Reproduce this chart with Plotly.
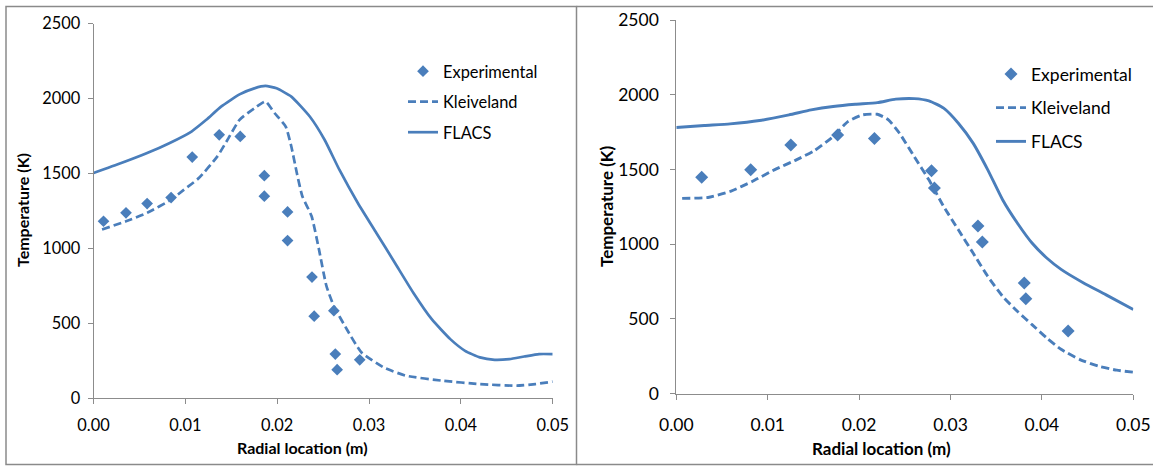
import plotly.graph_objects as go

# ---- Left panel data ----
left_exp_x = [0.00109, 0.00354, 0.00584, 0.00845, 0.01075, 0.01369, 0.01598, 0.0186, 0.0186,
              0.02113, 0.02113, 0.02379, 0.02403, 0.02617, 0.02633, 0.02653, 0.02899]
left_exp_y = [1180, 1236, 1298, 1338, 1608, 1757, 1746, 1484, 1347,
              1242, 1051, 807, 546, 583, 293, 189, 255]

left_klv_x = [0.00093, 0.00354, 0.00584, 0.00845, 0.00986, 0.01147, 0.01349, 0.0147, 0.0159,
              0.01751, 0.01872, 0.01973, 0.02093, 0.02154, 0.02214, 0.02274, 0.02375, 0.02455,
              0.02536, 0.02617, 0.02758, 0.02918, 0.0316, 0.03402, 0.03804, 0.04207, 0.0461,
              0.04811, 0.05]
left_klv_y = [1125, 1180, 1236, 1324, 1391, 1468, 1613, 1735, 1857,
              1934, 1979, 1901, 1812, 1679, 1502, 1347, 1213, 992,
              748, 614, 459, 304, 204, 149, 115, 93, 82,
              93, 109]

left_flacs_x = [0.0, 0.00302, 0.00584, 0.00825, 0.01067, 0.01228, 0.01389, 0.0159, 0.01751,
                0.01872, 0.01993, 0.02154, 0.02355, 0.02516, 0.02677, 0.02878, 0.0308, 0.03281,
                0.03482, 0.03683, 0.03885, 0.04046, 0.04207, 0.04368, 0.04529, 0.0469, 0.04851,
                0.05]
left_flacs_y = [1502, 1568, 1635, 1701, 1779, 1857, 1945, 2027, 2067,
                2083, 2067, 2012, 1879, 1724, 1524, 1302, 1102, 903,
                703, 526, 393, 315, 271, 255, 260, 277, 293,
                293]

# ---- Right panel data ----
right_exp_x = [0.00278, 0.00814, 0.01253, 0.01765, 0.02168, 0.02792, 0.02824, 0.033, 0.03348,
               0.03807, 0.03824, 0.04287]
right_exp_y = [1448, 1497, 1664, 1731, 1707, 1491, 1375, 1121, 1014, 740, 635, 419]

right_klv_x = [0.00064, 0.00347, 0.00588, 0.0083, 0.01072, 0.01313, 0.01515, 0.01716, 0.01877,
               0.02039, 0.022, 0.02321, 0.02442, 0.02603, 0.02764, 0.02925, 0.03086, 0.03247,
               0.03408, 0.0357, 0.03731, 0.03892, 0.04053, 0.04214, 0.04416, 0.04617, 0.04819,
               0.05]
right_klv_y = [1306, 1312, 1352, 1419, 1497, 1564, 1627, 1720, 1820,
               1865, 1869, 1832, 1742, 1586, 1430, 1252, 1096, 940,
               784, 651, 550, 461, 372, 294, 227, 183, 156,
               143]

right_flacs_x = [0.0, 0.00306, 0.00588, 0.00911, 0.01233, 0.01475, 0.01716, 0.01958, 0.022,
                 0.02401, 0.02603, 0.02764, 0.02925, 0.03086, 0.03247, 0.03408, 0.0357, 0.03731,
                 0.03892, 0.04053, 0.04214, 0.04456, 0.04698, 0.05]
right_flacs_y = [1780, 1794, 1805, 1827, 1865, 1898, 1921, 1936, 1947,
                 1970, 1974, 1959, 1910, 1809, 1676, 1497, 1297, 1141,
                 1007, 907, 829, 740, 662, 562]

x_ticks = [0.0, 0.01, 0.02, 0.03, 0.04, 0.05]
x_ticklabels = ["0.00", "0.01", "0.02", "0.03", "0.04", "0.05"]
y_ticks = [0, 500, 1000, 1500, 2000, 2500]

BLUE = "#4a7ebb"
AXIS_GRAY = "#8c8c8c"
FONT = "Lato"

W, H = 1153, 466

fig = go.Figure()


def add_panel(xa, ya, legend, ex, ey, kx, ky, fx, fy, msize, lw):
    fig.add_trace(go.Scatter(
        x=ex, y=ey, mode="markers", name="Experimental",
        marker=dict(symbol="diamond", size=msize, color=BLUE),
        xaxis=xa, yaxis=ya, legend=legend, legendgroup=legend + "a"))
    fig.add_trace(go.Scatter(
        x=kx, y=ky, mode="lines", name="Kleiveland",
        line=dict(color=BLUE, width=lw, dash="8px,4px", shape="spline", smoothing=0.5),
        xaxis=xa, yaxis=ya, legend=legend, legendgroup=legend + "b"))
    fig.add_trace(go.Scatter(
        x=fx, y=fy, mode="lines", name="FLACS",
        line=dict(color=BLUE, width=lw, shape="spline", smoothing=0.5),
        xaxis=xa, yaxis=ya, legend=legend, legendgroup=legend + "c"))


add_panel("x", "y", "legend", left_exp_x, left_exp_y, left_klv_x, left_klv_y,
          left_flacs_x, left_flacs_y, 9, 2.7)
add_panel("x2", "y2", "legend2", right_exp_x, right_exp_y, right_klv_x, right_klv_y,
          right_flacs_x, right_flacs_y, 10, 2.9)


def px_x(p):
    return p / W


def px_y(p):
    return 1 - p / H


def xaxis_style(dom, fs, standoff):
    return dict(domain=dom, range=[0, 0.05], tickvals=x_ticks, ticktext=x_ticklabels,
                showline=True, linecolor=AXIS_GRAY, linewidth=1, ticks="outside",
                ticklen=5, tickcolor=AXIS_GRAY, showgrid=False, zeroline=False,
                tickfont=dict(family=FONT, size=fs, color="#000"),
                ticklabelstandoff=standoff, fixedrange=True)


def yaxis_style(dom, fs, standoff):
    return dict(domain=dom, range=[0, 2500], tickvals=y_ticks,
                showline=True, linecolor=AXIS_GRAY, linewidth=1, ticks="outside",
                ticklen=5, tickcolor=AXIS_GRAY, showgrid=False, zeroline=False,
                tickfont=dict(family=FONT, size=fs, color="#000"),
                ticklabelstandoff=standoff, fixedrange=True)


xa1 = xaxis_style([px_x(93.5), px_x(552.7)], 16.4, 7)
xa1["anchor"] = "y"
ya1 = yaxis_style([px_y(398), px_y(23.5)], 16.4, 4)
ya1["anchor"] = "x"
xa2 = xaxis_style([px_x(676.3), px_x(1133.3)], 17.5, 10)
xa2["anchor"] = "y2"
ya2 = yaxis_style([px_y(393.5), px_y(20)], 17.5, 8)
ya2["anchor"] = "x2"

legend_common = dict(bgcolor="rgba(0,0,0,0)", borderwidth=0, xanchor="left",
                     yanchor="top", itemwidth=30)

title_common = dict(xref="paper", yref="paper", showarrow=False,
                    xanchor="center", yanchor="middle")

fig.update_layout(
    width=W, height=H, margin=dict(l=0, r=0, t=0, b=0, autoexpand=False),
    paper_bgcolor="white", plot_bgcolor="white",
    xaxis=xa1, yaxis=ya1, xaxis2=xa2, yaxis2=ya2,
    showlegend=True,
    legend=dict(x=px_x(403), y=px_y(54), font=dict(family=FONT, size=16.4, color="#000"),
                tracegroupgap=6.2, **legend_common),
    legend2=dict(x=px_x(991), y=px_y(56), font=dict(family=FONT, size=17.5, color="#000"),
                 tracegroupgap=8, **legend_common),
    shapes=[
        # left panel frame
        dict(type="rect", xref="paper", yref="paper", x0=px_x(6), x1=px_x(576.5),
             y0=px_y(464.5), y1=px_y(6.5), line=dict(color="#8a8a8a", width=1.5)),
        # right panel frame (open on the right edge)
        dict(type="line", xref="paper", yref="paper", x0=px_x(576.5), x1=1,
             y0=px_y(6.5), y1=px_y(6.5), line=dict(color="#8a8a8a", width=1.5)),
        dict(type="line", xref="paper", yref="paper", x0=px_x(576.5), x1=1,
             y0=px_y(464.5), y1=px_y(464.5), line=dict(color="#8a8a8a", width=1.5)),
    ],
    annotations=[
        dict(text="<b>Temperature (K)</b>", textangle=-90, x=px_x(22), y=px_y(210),
             font=dict(family=FONT, size=16, color="#000"), **title_common),
        dict(text="<b>Radial location (m)</b>", x=px_x(302), y=px_y(447),
             font=dict(family=FONT, size=16, color="#000"), **title_common),
        dict(text="<b>Temperature (K)</b>", textangle=-90, x=px_x(606), y=px_y(207),
             font=dict(family=FONT, size=17, color="#000"), **title_common),
        dict(text="<b>Radial location (m)</b>", x=px_x(881), y=px_y(448),
             font=dict(family=FONT, size=17, color="#000"), **title_common),
    ],
)

fig.write_html("out.html")
